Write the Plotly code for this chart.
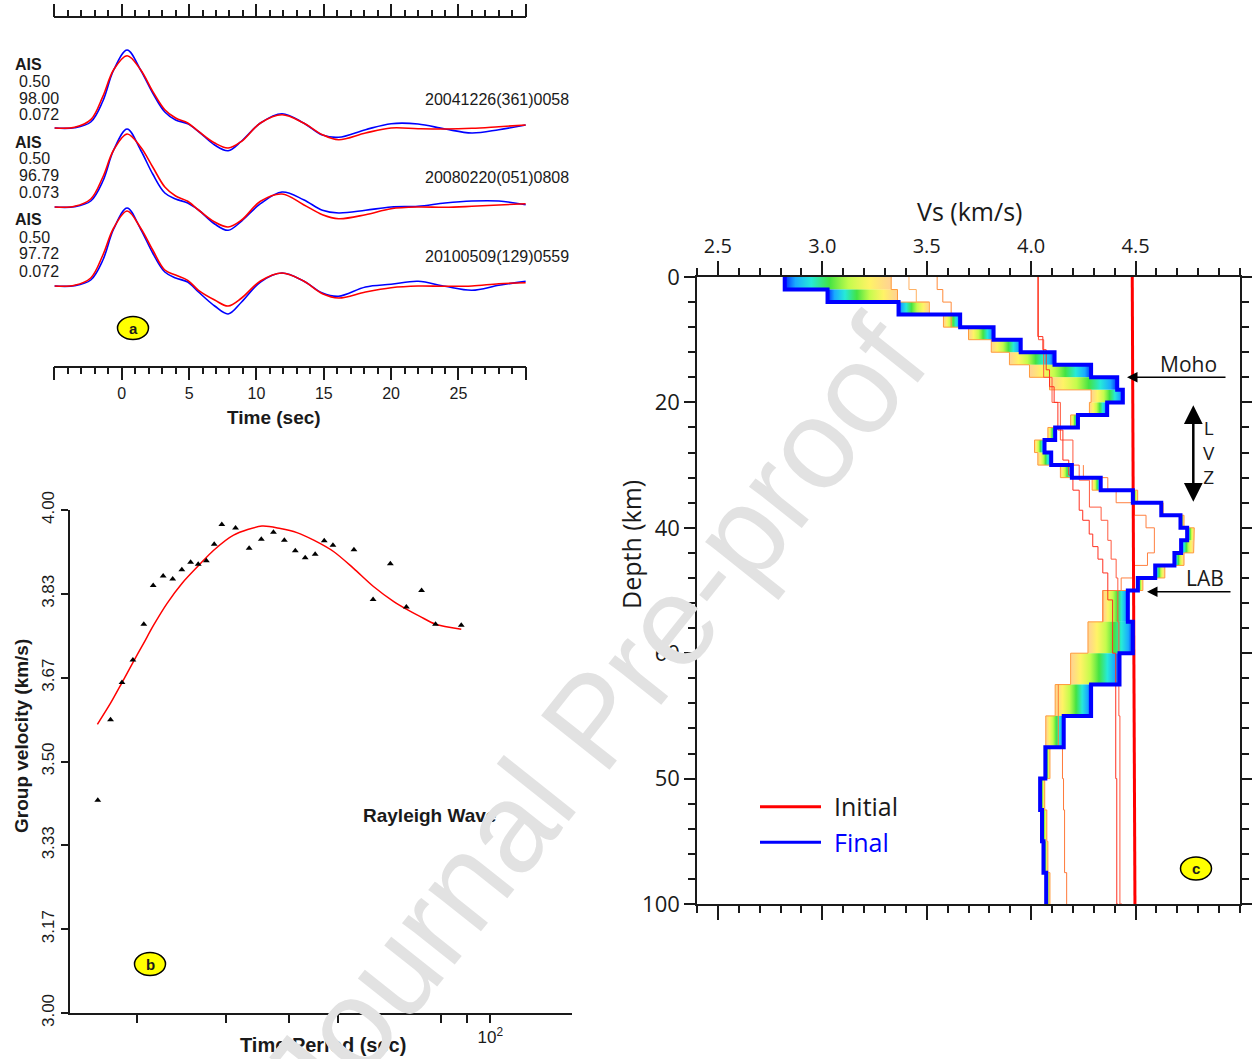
import plotly.graph_objects as go

W, H = 1252, 1059


def px(x):
    return x / W


def py(y):
    return 1 - y / H


FA = "Liberation Sans"
FC = "Open Sans"
INK = "#1a1a1a"

# ---------------- Panel a : waveform fits ----------------
TIME_S = [-5.0, -3.5, -2.3, -1.4, -0.6, 0.4, 1.4, 2.3, 3.2, 4.0, 4.9, 5.7, 6.9, 7.9,
          8.9, 10.3, 11.9, 13.5, 14.9, 16.1, 18.1, 20.0, 22.0, 24.0, 26.0, 28.0, 30.0]
OBS_1 = [0, 0.7, 8.3, 31.7, 58.3, 72.3, 58.3, 36.7, 18.3, 10, 5, -3.3, -15, -20,
         -13.3, 5, 13.3, 5, -6.7, -11.7, -5, 0, -0.7, -1, -0.3, 1.3, 3]
SYN_1 = [0, 0.3, 6, 27, 58, 78, 58, 35, 16, 8, 4.3, -3.5, -17, -22.7,
         -13, 5, 14.3, 5, -7, -9.3, -1.7, 4.3, 4, -1, -5, -1.7, 3]
OBS_2 = [0, 0.7, 8, 30, 57, 73, 60, 40, 20, 11, 5.7, -3, -15, -20,
         -13, 5.7, 13, 2.3, -7.7, -11.7, -7.7, -1.7, 0, -0.3, 0.7, 2, 3.3]
SYN_2 = [0, 0.3, 6, 26, 57, 78, 57, 33, 14, 8, 4, -3, -17, -23.3,
         -14, 3.3, 15, 7.3, -3.3, -6, -3.3, 0, 0.7, 4, 6, 6, 2.3]
OBS_3 = [0, 0.7, 8, 31, 58, 75, 58, 36, 16, 11, 5.7, -4.3, -14, -20,
         -12, 5, 13, 5, -7.7, -12, -6, -1.7, 0, -0.3, 0, 2.3, 3.3]
SYN_3 = [0, 0.3, 6, 26, 57, 78, 57, 33, 14, 8, 4, -6, -20, -28,
         -16, 4, 13, 5, -7, -10.3, -1, 1.7, 4.7, -0.3, -4.3, 0.7, 4.7]
STATION = "AIS"
STATION_PARAMS = [["0.50", "98.00", "0.072"], ["0.50", "96.79", "0.073"], ["0.50", "97.72", "0.072"]]
EVENT_IDS = ["20041226(361)0058", "20080220(051)0808", "20100509(129)0559"]
TIME_TICKS = [-5, 0, 5, 10, 15, 20, 25, 30]
TIME_TICKTEXT = ["", "0", "5", "10", "15", "20", "25", ""]

# ---------------- Panel b : dispersion ----------------
PERIOD_OBS = [16.7, 17.7, 18.65, 19.6, 20.6, 21.5, 22.5, 23.5, 24.5, 25.5, 26.4, 27.4, 28.4,
              29.4, 31.3, 33.3, 35.2, 37.2, 39.1, 41.1, 43.0, 45.0, 46.9, 48.8, 53.7, 58.6,
              63.4, 68.2, 73.1, 77.9, 87.6]
VEL_OBS = [3.423, 3.583, 3.657, 3.702, 3.773, 3.850, 3.869, 3.863, 3.881, 3.896, 3.892, 3.899,
           3.932, 3.971, 3.964, 3.924, 3.942, 3.956, 3.940, 3.919, 3.905, 3.912, 3.939, 3.930,
           3.921, 3.822, 3.893, 3.807, 3.840, 3.773, 3.771]
PERIOD_FIT = [16.67, 17.7, 18.65, 19.61, 20.58, 21.54, 22.89, 24.51, 26.65, 28.33, 31.02, 35.3,
              38.4, 41.4, 44.7, 49.0, 53.6, 58.7, 64.4, 68.2, 72.7, 77.9, 87.6]
VEL_FIT = [3.574, 3.616, 3.657, 3.697, 3.735, 3.771, 3.814, 3.854, 3.893, 3.920, 3.950, 3.968,
           3.963, 3.955, 3.940, 3.917, 3.884, 3.848, 3.818, 3.803, 3.788, 3.773, 3.763]
PERIOD_TICKS = [20, 30, 40, 50, 60, 80, 90, 100]
PERIOD_TICKTEXT = ["", "", "", "", "", "", "", "10<sup>2</sup>"]
VEL_TICKS = [3.0, 3.1667, 3.3333, 3.5, 3.6667, 3.8333, 4.0]
VEL_TICKTEXT = ["3.00", "3.17", "3.33", "3.50", "3.67", "3.83", "4.00"]

# ---------------- Panel c : Vs inversion ----------------
BOUNDS = [0, 2, 4, 6, 8, 10, 12, 14, 16, 18, 20, 22, 24, 26, 28, 30, 32, 34, 36, 38, 40,
          42, 44, 46, 48, 50, 55, 60, 65, 70, 75, 80, 85, 90, 95, 100]
FINAL_VS = [2.82, 3.025, 3.365, 3.66, 3.82, 3.95, 4.112, 4.287, 4.412, 4.439, 4.364, 4.224,
            4.115, 4.064, 4.096, 4.195, 4.333, 4.487, 4.623, 4.715, 4.747, 4.718, 4.686,
            4.594, 4.511, 4.463, 4.487, 4.423, 4.287, 4.156, 4.068, 4.043, 4.052, 4.059, 4.072]
BAND_START_VS = [3.33, 3.36, 3.513, 3.58, 3.70, 3.809, 3.896, 3.992, 4.088, 4.287, 4.279,
                 4.189, 4.08, 4.016, 4.032, 4.14, 4.292, 4.51, 4.632, 4.732, 4.781, 4.778,
                 4.732, 4.64, 4.535, 4.343, 4.272, 4.189, 4.115, 4.07, 4.09, 4.065, 4.075,
                 4.08, 4.09]
EARLY_A_VS = [3.415, 3.45, 3.513]            # layers 1-3
EARLY_B_VS = [3.55, 3.577, 3.617, 3.617]     # layers 1-4
EARLY_C_VS = [4.25, 4.367, 4.407, 4.495, 4.55, 4.59, 4.59, 4.557, 4.495, 4.431, 4.343]  # layers 16-26
EARLY_D_DEPTH = [65, 75, 80, 85, 95, 100]
EARLY_D_VS = [4.13, 4.15, 4.155, 4.16, 4.17, 4.17]
SMOOTH1_DEPTH = [0, 9.5, 11.6, 14.8, 17.5, 20, 24.4, 29.2, 31.6, 34, 37.2, 38.8, 41, 43, 45,
                 47.2, 51.5, 60, 80, 100]
SMOOTH1_VS = [4.032, 4.056, 4.072, 4.088, 4.11, 4.128, 4.152, 4.18, 4.2, 4.23, 4.247, 4.278,
              4.295, 4.32, 4.343, 4.367, 4.39, 4.405, 4.41, 4.415]
SMOOTH2_DEPTH = [0, 10, 16, 20, 26, 30, 32.4, 36.7, 38.8, 42, 45, 48, 55, 70, 100]
SMOOTH2_VS = [4.035, 4.06, 4.1, 4.14, 4.2, 4.23, 4.279, 4.335, 4.367, 4.383, 4.407, 4.415,
              4.42, 4.425, 4.435]
INITIAL_DEPTH = [0, 50, 100]
INITIAL_VS = [4.484, 4.49, 4.497]
VS_TICKS = [2.5, 3.0, 3.5, 4.0, 4.5]
VS_TICKTEXT = ["2.5", "3.0", "3.5", "4.0", "4.5"]
DEPTH_TICKS = [0, 20, 40, 60, 80, 100]
DEPTH_TICKTEXT = ["0", "20", "40", "60", "50", "100"]


def steps(vals, tops, bots):
    xs, ys = [], []
    for v, t, b in zip(vals, tops, bots):
        xs += [v, v]
        ys += [t, b]
    return xs, ys


fig = go.Figure()

# ---- panel a traces ----
BASE_ROWS = [128, 207, 286]
for base, obs, syn in zip(BASE_ROWS, [OBS_1, OBS_2, OBS_3], [SYN_1, SYN_2, SYN_3]):
    fig.add_trace(go.Scatter(x=TIME_S, y=[-base + a for a in syn], mode="lines",
                             line=dict(color="#0000ff", width=1.6, shape="spline", smoothing=1.0),
                             xaxis="x", yaxis="y", hoverinfo="skip"))
    fig.add_trace(go.Scatter(x=TIME_S, y=[-base + a for a in obs], mode="lines",
                             line=dict(color="#ff0000", width=1.6, shape="spline", smoothing=1.0),
                             xaxis="x", yaxis="y", hoverinfo="skip"))

# ---- panel b traces ----
fig.add_trace(go.Scatter(x=PERIOD_FIT, y=VEL_FIT, mode="lines",
                         line=dict(color="#ff0000", width=1.5, shape="spline", smoothing=0.8),
                         xaxis="x2", yaxis="y2", hoverinfo="skip"))
fig.add_trace(go.Scatter(x=PERIOD_OBS, y=VEL_OBS, mode="markers",
                         marker=dict(symbol="triangle-up", size=6, color="#000000"),
                         xaxis="x2", yaxis="y2", hoverinfo="skip"))

# ---- panel c traces ----
BAND_SCALE = [[0.0, "rgba(0,40,255,1)"], [0.1, "rgba(0,160,255,0.9)"],
              [0.25, "rgba(0,230,210,0.85)"], [0.42, "rgba(20,220,20,0.8)"],
              [0.6, "rgba(170,250,0,0.7)"], [0.8, "rgba(255,235,0,0.6)"],
              [1.0, "rgba(255,165,40,0.5)"]]
BAND_SCALE_REV = [[1 - p, c] for p, c in reversed(BAND_SCALE)]
tops, bots = BOUNDS[:-1], BOUNDS[1:]
for fv, sv, t, b in zip(FINAL_VS, BAND_START_VS, tops, bots):
    lo, hi = min(fv, sv), max(fv, sv)
    cs = BAND_SCALE if fv <= sv else BAND_SCALE_REV
    fig.add_trace(go.Scatter(x=[lo, hi, hi, lo, lo], y=[t, t, b, b, t], mode="lines",
                             fill="toself", line=dict(width=0, color="rgba(0,0,0,0)"),
                             fillgradient=dict(type="horizontal", colorscale=cs),
                             xaxis="x3", yaxis="y3", hoverinfo="skip"))

xs, ys = steps(BAND_START_VS, tops, bots)
fig.add_trace(go.Scatter(x=xs, y=ys, mode="lines", line=dict(color="#ff9a3c", width=1),
                         xaxis="x3", yaxis="y3", hoverinfo="skip"))
xs, ys = steps(EARLY_A_VS, tops[0:3], bots[0:3])
fig.add_trace(go.Scatter(x=xs, y=ys, mode="lines", line=dict(color="#ffb060", width=1),
                         xaxis="x3", yaxis="y3", hoverinfo="skip"))
xs, ys = steps(EARLY_B_VS, tops[0:4], bots[0:4])
fig.add_trace(go.Scatter(x=xs, y=ys, mode="lines", line=dict(color="#ff8a3a", width=1),
                         xaxis="x3", yaxis="y3", hoverinfo="skip"))
xs, ys = steps(EARLY_C_VS, tops[15:26], bots[15:26])
fig.add_trace(go.Scatter(x=xs, y=ys, mode="lines", line=dict(color="#ff8040", width=1),
                         xaxis="x3", yaxis="y3", hoverinfo="skip"))
fig.add_trace(go.Scatter(x=EARLY_D_VS, y=EARLY_D_DEPTH, mode="lines",
                         line=dict(color="#ff7a3a", width=1, shape="vh"),
                         xaxis="x3", yaxis="y3", hoverinfo="skip"))
fig.add_trace(go.Scatter(x=SMOOTH2_VS, y=SMOOTH2_DEPTH, mode="lines",
                         line=dict(color="#ff5a40", width=1, shape="vh"),
                         xaxis="x3", yaxis="y3", hoverinfo="skip"))
fig.add_trace(go.Scatter(x=SMOOTH1_VS, y=SMOOTH1_DEPTH, mode="lines",
                         line=dict(color="#ff3020", width=1, shape="vh"),
                         xaxis="x3", yaxis="y3", hoverinfo="skip"))
fig.add_trace(go.Scatter(x=INITIAL_VS, y=INITIAL_DEPTH, mode="lines",
                         line=dict(color="#ff0000", width=3),
                         xaxis="x3", yaxis="y3", hoverinfo="skip"))
xs, ys = steps(FINAL_VS, tops, bots)
fig.add_trace(go.Scatter(x=xs, y=ys, mode="lines", line=dict(color="#0000ff", width=4),
                         xaxis="x3", yaxis="y3", hoverinfo="skip"))

# ---------------- layout / axes ----------------
tick_common = dict(showgrid=False, zeroline=False, showline=True, linecolor=INK,
                   tickcolor=INK, ticks="outside", automargin=False)

fig.update_layout(
    width=W, height=H, margin=dict(l=0, r=0, t=0, b=0, autoexpand=False),
    paper_bgcolor="white", plot_bgcolor="rgba(0,0,0,0)", showlegend=False,
    xaxis=dict(domain=[px(54.4), px(525.8)], range=[-5, 30], anchor="y", mirror="ticks",
               linewidth=1.5, tickwidth=1.5, ticklen=13, tickvals=TIME_TICKS,
               ticktext=TIME_TICKTEXT,
               minor=dict(dtick=1, tick0=0, ticklen=7, tickwidth=1.5, tickcolor=INK,
                          ticks="outside"),
               tickfont=dict(family=FA, size=16, color=INK), **tick_common),
    yaxis=dict(domain=[py(365.5), py(18.3)], range=[-365.5, -18.3], anchor="x", visible=False),
    xaxis2=dict(type="log", domain=[px(70), px(572)], range=[1.1677, 2.1618], anchor="y2",
                linewidth=1.5, tickwidth=1.5, ticklen=8, tickvals=PERIOD_TICKS,
                ticktext=PERIOD_TICKTEXT, tickfont=dict(family=FA, size=17, color=INK),
                **tick_common),
    yaxis2=dict(domain=[py(1013), py(510)], range=[3, 4], anchor="x2", linewidth=1.5,
                tickwidth=1.5, ticklen=7, tickvals=VEL_TICKS, ticktext=VEL_TICKTEXT,
                tickangle=-90, tickfont=dict(family=FA, size=17, color=INK), **tick_common),
    xaxis3=dict(domain=[px(697), px(1240)], range=[2.4, 5.0], side="top", anchor="y3",
                mirror="ticks", linewidth=1.5, tickwidth=1.5, ticklen=14, tickvals=VS_TICKS,
                ticktext=VS_TICKTEXT,
                minor=dict(dtick=0.1, tick0=0, ticklen=7, tickwidth=1.5, tickcolor=INK,
                           ticks="outside"),
                tickfont=dict(family=FC, size=20, color=INK), **tick_common),
    yaxis3=dict(domain=[py(904), py(277)], range=[100, 0], anchor="x3", mirror="ticks",
                linewidth=1.5, tickwidth=1.5, ticklen=11, tickvals=DEPTH_TICKS,
                ticktext=DEPTH_TICKTEXT,
                minor=dict(dtick=4, tick0=0, ticklen=7, tickwidth=1.5, tickcolor=INK,
                           ticks="outside"),
                tickfont=dict(family=FC, size=22, color=INK), **tick_common),
)

ann = []


def text(t, x, y, size, family=FA, color=INK, xanchor="center", yanchor="middle", angle=0):
    ann.append(dict(text=t, x=px(x), y=py(y), xref="paper", yref="paper", showarrow=False,
                    xanchor=xanchor, yanchor=yanchor, textangle=angle,
                    font=dict(family=family, size=size, color=color)))


# panel a texts
for i, (params, ev) in enumerate(zip(STATION_PARAMS, EVENT_IDS)):
    y0 = 64 + i * 78
    text("<b>%s</b>" % STATION, 13, y0, 16, xanchor="left")
    for j, p in enumerate(params):
        text(p, 17, y0 + 17 * (j + 1), 16, xanchor="left")
    text(ev, 571, y0 + 36, 16, xanchor="right")
text("<b>Time (sec)</b>", 274, 418, 19)

# panel b texts
text("<b>Group velocity (km/s)</b>", 21, 736, 19, angle=-90)
text("<b>Time Period (sec)</b>", 323, 1045, 20)
text("<b>Rayleigh Wave</b>", 361, 816, 19, xanchor="left")

# panel c texts
text("Vs (km/s)", 969, 211, 25, family=FC)
text("Depth (km)", 631, 545, 25, family=FC, angle=-90)
text("Moho", 1188, 364, 21, family=FC)
text("LAB", 1205, 578, 21, family=FC)
text("L<br>V<br>Z", 1209, 452, 19, family=FC)
text("Initial", 832, 806, 25, family=FC, xanchor="left")
text("Final", 832, 842, 25, family=FC, color="#0000ff", xanchor="left")

# arrows
ann.append(dict(x=px(1127), y=py(377.3), xref="paper", yref="paper", text="", showarrow=True,
                ax=100, ay=0, axref="pixel", ayref="pixel", arrowhead=2, arrowsize=1.4,
                arrowwidth=1.5, arrowcolor="#000"))
ann.append(dict(x=px(1147), y=py(591.7), xref="paper", yref="paper", text="", showarrow=True,
                ax=85, ay=0, axref="pixel", ayref="pixel", arrowhead=2, arrowsize=1.4,
                arrowwidth=1.5, arrowcolor="#000"))
ann.append(dict(x=px(1193.3), y=py(501.7), xref="paper", yref="paper", text="", showarrow=True,
                ax=0, ay=-98, axref="pixel", ayref="pixel", arrowhead=2, startarrowhead=2,
                arrowside="end+start", arrowsize=1.5, startarrowsize=1.5, arrowwidth=2.5,
                arrowcolor="#000"))

# panel letters
shapes = []
for lab, cx, cy in [("a", 133, 328), ("b", 150, 964), ("c", 1196, 868.5)]:
    shapes.append(dict(type="circle", xref="paper", yref="paper",
                       x0=px(cx - 15.5), x1=px(cx + 15.5), y0=py(cy + 11.5), y1=py(cy - 11.5),
                       fillcolor="#ffff00", line=dict(color="#000", width=1.5)))
    text("<b>%s</b>" % lab, cx, cy, 15)

# legend samples
shapes.append(dict(type="line", xref="paper", yref="paper", x0=px(760), x1=px(821),
                   y0=py(806.7), y1=py(806.7), line=dict(color="#ff0000", width=3)))
shapes.append(dict(type="line", xref="paper", yref="paper", x0=px(760), x1=px(821),
                   y0=py(842.3), y1=py(842.3), line=dict(color="#0000ff", width=3)))

# watermark
ann.append(dict(text="Journal Pre-proof", x=px(593), y=py(720), xref="paper", yref="paper",
                showarrow=False, textangle=-51.5, xanchor="center", yanchor="middle",
                font=dict(family=FA, size=127, color="rgb(226,226,226)")))

fig.update_layout(annotations=ann, shapes=shapes)
fig.write_html("out.html")
